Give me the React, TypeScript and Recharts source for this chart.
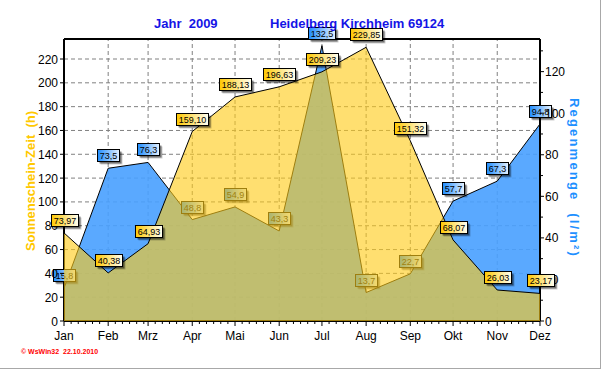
import React from 'react';
import { ComposedChart, Area, XAxis, YAxis, ReferenceLine, LabelList } from 'recharts';

const months = ['Jan', 'Feb', 'Mrz', 'Apr', 'Mai', 'Jun', 'Jul', 'Aug', 'Sep', 'Okt', 'Nov', 'Dez'];
const monthStartDays = [0, 31, 59, 90, 120, 151, 181, 212, 243, 273, 304, 334];
const sunshineHours = [73.97, 40.38, 64.93, 159.1, 188.13, 196.63, 209.23, 229.85, 151.32, 68.07, 26.03, 23.17];
const rainfall = [15.8, 73.5, 76.3, 48.8, 54.9, 43.3, 132.5, 13.7, 22.7, 57.7, 67.3, 94.8];
const leftTicks = [0, 20, 40, 60, 80, 100, 120, 140, 160, 180, 200, 220];
const rightTicks = [0, 10, 20, 30, 40, 50, 60, 70, 80, 90, 100, 110, 120, 130];
const leftDomain = [0, 236.8];
const rightDomain = [0, 135.7];

const data = months.map((m, i) => ({
  day: monthStartDays[i],
  month: m,
  sun: sunshineHours[i],
  rain: rainfall[i],
}));

const xTicks: number[] = [];
monthStartDays.forEach((d, i) => {
  xTicks.push(d);
  const next = i < monthStartDays.length - 1 ? monthStartDays[i + 1] : d;
  for (let k = d + 5; k < next - 1; k += 5) xTicks.push(k);
});

const FONT = '"Liberation Sans", Arial, sans-serif';

const fmt = (v: number, dec: number) => v.toFixed(dec).replace('.', ',');

function ValueBox({ cx, cy, text, kind }: { cx: number; cy: number; text: string; kind: string }) {
  const w = text.length * 5 + 2;
  const h = 12;
  const x0 = Math.round(cx - w / 2) + 0.5;
  const y0 = Math.round(cy - 7 - h) + 0.5;
  return (
    <g>
      <rect x={x0 + 3} y={y0 + 3} width={w} height={h} fill="#000" opacity={0.2} />
      <rect x={x0 + 2} y={y0 + 2} width={w} height={h} fill="#000" opacity={0.45} />
      <rect x={x0} y={y0} width={w} height={h} fill={`url(#grad-${kind})`} stroke="#000" strokeWidth={1} />
      <text x={x0 + w / 2} y={y0 + 9.5} textAnchor="middle" fontSize={9} fontFamily={FONT} fill="#000">
        {text}
      </text>
    </g>
  );
}

const RainDot = (props: any) => {
  const { cx, cy, index } = props;
  if (cx == null || cy == null) return <g key={`r${index}`} />;
  return <ValueBox key={`r${index}`} cx={cx} cy={cy} text={fmt(rainfall[index], 1)} kind="rain" />;
};

const SunLabel = (props: any) => {
  const { x, y, index } = props;
  if (x == null || y == null) return <g />;
  return <ValueBox cx={x} cy={y} text={fmt(sunshineHours[index], 2)} kind="sun" />;
};

const XTick = (props: any) => {
  const { x, y, payload } = props;
  const idx = monthStartDays.indexOf(payload.value);
  if (idx >= 0) {
    return (
      <g>
        <line x1={x} x2={x} y1={y} y2={y + 5} stroke="#000" />
        <text x={x} y={y + 19} textAnchor="middle" fontSize={12} fontFamily={FONT} fill="#000">
          {months[idx]}
        </text>
      </g>
    );
  }
  return <line x1={x} x2={x} y1={y} y2={y + 3} stroke="#000" />;
};

const LeftTick = (props: any) => {
  const { x, y, payload } = props;
  return (
    <g>
      <line x1={x - 4} x2={x} y1={y} y2={y} stroke="#000" />
      <text x={x - 6} y={y + 4.5} textAnchor="end" fontSize={12} fontFamily={FONT} fill="#000">
        {payload.value}
      </text>
    </g>
  );
};

const RightTick = (props: any) => {
  const { x, y, payload } = props;
  const major = payload.value % 20 === 0;
  return (
    <g>
      <line x1={x} x2={x + (major ? 4 : 3)} y1={y} y2={y} stroke="#000" />
      {major && (
        <text x={x + 5} y={y + 4.5} textAnchor="start" fontSize={12} fontFamily={FONT} fill="#000">
          {payload.value}
        </text>
      )}
    </g>
  );
};

export default function App() {
  return (
    <div style={{ position: 'absolute', left: 0, top: 0, width: 603, height: 370, background: '#fff' }}>
      <ComposedChart
        width={603}
        height={370}
        data={data}
        margin={{ top: 39, right: 23, bottom: 19, left: 8 }}
      >
        <defs>
          <linearGradient id="grad-sun" x1="0" y1="0" x2="1" y2="0">
            <stop offset="0%" stopColor="#FFC800" />
            <stop offset="100%" stopColor="#FFFFF4" />
          </linearGradient>
          <linearGradient id="grad-rain" x1="0" y1="0" x2="1" y2="0">
            <stop offset="0%" stopColor="#1E8CFF" />
            <stop offset="100%" stopColor="#E6F2FF" />
          </linearGradient>
        </defs>
        <XAxis
          dataKey="day"
          type="number"
          domain={[0, 334]}
          ticks={xTicks}
          interval={0}
          height={30}
          tickSize={0}
          tickMargin={0}
          tickLine={false}
          tick={<XTick />}
          axisLine={{ stroke: '#000', strokeWidth: 2 }}
        />
        <YAxis
          yAxisId="left"
          orientation="left"
          width={56}
          domain={leftDomain}
          ticks={leftTicks}
          interval={0}
          tickSize={0}
          tickMargin={0}
          tickLine={false}
          tick={<LeftTick />}
          axisLine={{ stroke: '#000', strokeWidth: 2 }}
        />
        <YAxis
          yAxisId="right"
          orientation="right"
          width={40}
          domain={rightDomain}
          ticks={rightTicks}
          interval={0}
          tickSize={0}
          tickMargin={0}
          tickLine={false}
          tick={<RightTick />}
          axisLine={{ stroke: '#000', strokeWidth: 2 }}
        />
        {monthStartDays.slice(1, -1).map((d) => (
          <ReferenceLine
            key={`vx${d}`}
            x={d}
            yAxisId="left"
            stroke="#808080"
            strokeDasharray="4 3"
            zIndex={-50}
          />
        ))}
        {leftTicks.slice(1).map((v) => (
          <ReferenceLine
            key={`hy${v}`}
            y={v}
            yAxisId="left"
            stroke="#808080"
            strokeDasharray="4 3"
            zIndex={-50}
          />
        ))}
        <ReferenceLine y={leftDomain[1]} yAxisId="left" stroke="#000" strokeWidth={2} />
        <Area
          yAxisId="right"
          dataKey="rain"
          type="linear"
          fill="#48A0FF"
          fillOpacity={0.9}
          stroke="#000"
          strokeWidth={1}
          dot={RainDot}
          activeDot={false}
          zIndex={100}
          isAnimationActive={false}
        />
        <Area
          yAxisId="left"
          dataKey="sun"
          type="linear"
          fill="#FFCC18"
          fillOpacity={0.62}
          stroke="#000"
          strokeWidth={1}
          dot={false}
          activeDot={false}
          zIndex={2500}
          isAnimationActive={false}
        />
        <Area
          yAxisId="left"
          dataKey="sun"
          type="linear"
          fill="none"
          fillOpacity={0}
          stroke="none"
          dot={false}
          activeDot={false}
          zIndex={3000}
          isAnimationActive={false}
        >
          <LabelList dataKey="sun" content={SunLabel} zIndex={3000} />
        </Area>
      </ComposedChart>
      <svg
        width={603}
        height={370}
        style={{ position: 'absolute', left: 0, top: 0, pointerEvents: 'none' }}
      >
        <text x={154} y={28} fontSize={13} fontWeight="bold" fontFamily={FONT} fill="#1414E6" style={{ whiteSpace: 'pre' }}>
          Jahr  2009
        </text>
        <text x={270} y={28} fontSize={13} fontWeight="bold" fontFamily={FONT} fill="#1414E6">
          Heidelberg Kirchheim 69124
        </text>
        <text
          x={0}
          y={0}
          transform="translate(35,181) rotate(-90)"
          textAnchor="middle"
          fontSize={13}
          fontWeight="bold"
          fontFamily={FONT}
          fill="#FFC800"
          style={{ whiteSpace: 'pre' }}
        >
          Sonnenschein-Zeit  (h)
        </text>
        <text
          x={0}
          y={0}
          transform="translate(570,178) rotate(90)"
          textAnchor="middle"
          fontSize={13}
          fontWeight="bold"
          fontFamily={FONT}
          fill="#1E90FF"
          letterSpacing={2.2}
          style={{ whiteSpace: 'pre' }}
        >
          Regenmenge  (l/m²)
        </text>
        <text x={21} y={354} fontSize={7} fontWeight="bold" fontFamily={FONT} fill="#FF0000" style={{ whiteSpace: 'pre' }}>
          © WsWin32  22.10.2010
        </text>
        <line x1={600.5} x2={600.5} y1={0} y2={369} stroke="#A8A8A8" />
        <line x1={0} x2={601} y1={368.5} y2={368.5} stroke="#A8A8A8" />
      </svg>
    </div>
  );
}
